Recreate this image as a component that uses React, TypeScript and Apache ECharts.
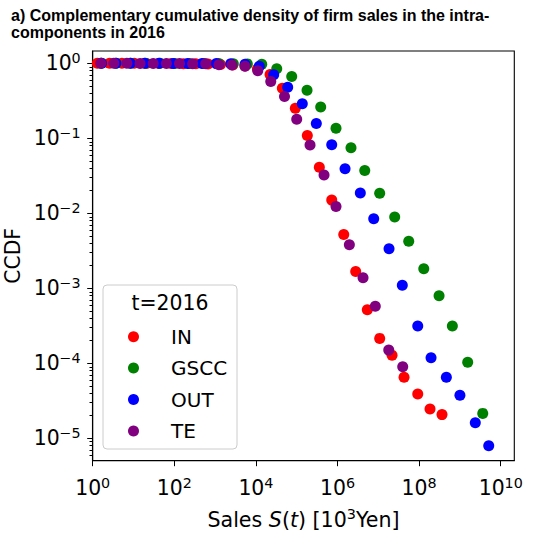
import { useEffect, useRef } from 'react';
import * as echarts from 'echarts';

const SERIES_NAMES = ['IN', 'GSCC', 'OUT', 'TE'];
const SERIES_COLORS = ['#ff0000', '#008000', '#0000ff', '#800080'];

// Sales S(t) [10^3 Yen] and CCDF per component
const inSales = [1.3, 2.59, 5.2, 10.4, 20.8, 42.0, 84, 168, 337, 673, 1350, 2700, 5410, 1.09e4, 2.22e4, 4.44e4, 9.25e4, 1.82e5, 3.58e5, 7.21e5, 1.42e6, 2.79e6, 5.37e6, 1.08e7, 2.17e7, 4.27e7, 9.25e7, 1.85e8, 3.64e8];
const inCcdf = [1, 1, 1, 0.999, 0.998, 0.996, 0.993, 0.99, 0.985, 0.978, 0.965, 0.95, 0.92, 0.84, 0.71, 0.466, 0.251, 0.109, 0.0412, 0.015, 0.00521, 0.00168, 5.19e-4, 2.15e-4, 1.28e-4, 6.5e-5, 3.9e-5, 2.46e-5, 2.07e-5];

const gsccSales = [1.63, 3.75, 8.53, 19.6, 44.9, 103, 234, 537, 1230, 2790, 6150, 1.39e4, 3.24e4, 7.54e4, 1.79e5, 3.87e5, 9.18e5, 2.14e6, 4.65e6, 1.08e7, 2.52e7, 5.56e7, 1.3e8, 3.08e8, 6.52e8, 1.55e9, 3.62e9];
const gsccCcdf = [1, 1, 1, 1, 0.999, 0.998, 0.997, 0.995, 0.993, 0.99, 0.983, 0.975, 0.845, 0.667, 0.437, 0.261, 0.136, 0.0747, 0.0372, 0.0185, 0.00893, 0.00424, 0.00182, 7.96e-4, 3.14e-4, 1.03e-4, 2.15e-5];

const outSales = [1.65, 3.71, 8.35, 18.7, 42.2, 94.4, 212, 478, 1070, 2410, 5410, 1.21e4, 2.73e4, 6.01e4, 1.37e5, 3.02e5, 7.21e5, 1.53e6, 3.62e6, 7.71e6, 1.83e7, 3.87e7, 9.25e7, 1.96e8, 4.65e8, 1.0e9, 2.38e9, 5.08e9];
const outCcdf = [1, 1, 1, 1, 0.999, 0.998, 0.996, 0.994, 0.991, 0.985, 0.97, 0.912, 0.703, 0.48, 0.289, 0.158, 0.0822, 0.0392, 0.0187, 0.00847, 0.00337, 0.0011, 3.14e-4, 1.19e-4, 6.5e-5, 3.74e-5, 1.61e-5, 7.96e-6];

const teSales = [1.57, 3.29, 6.89, 14.5, 30.4, 64.0, 134, 281, 589, 1240, 2590, 5410, 1.11e4, 2.31e4, 5.02e4, 1.0e5, 2.12e5, 4.67e5, 9.18e5, 1.95e6, 4.22e6, 8.43e6, 1.8e7, 3.96e7];
const teCcdf = [1, 1, 1, 0.998, 0.997, 0.995, 0.993, 0.99, 0.985, 0.958, 0.95, 0.915, 0.797, 0.572, 0.361, 0.179, 0.0815, 0.0324, 0.0123, 0.00381, 0.00138, 5.75e-4, 1.5e-4, 9.02e-5];

const X_TICKS = [1, 1e2, 1e4, 1e6, 1e8, 1e10];
const Y_TICKS = [1e-5, 1e-4, 1e-3, 1e-2, 1e-1, 1];
const Y_MINOR = [6e-6, 7e-6, 8e-6, 9e-6];
for (let p = -5; p < 0; p++) {
  for (let m = 2; m <= 9; m++) Y_MINOR.push(m * Math.pow(10, p));
}

const FONT = 'DejaVu Sans';

const supLabel = (v: number) => {
  const e = Math.round(Math.log10(v));
  return `{b|10}{s|${e < 0 ? '\u2212' + -e : e}}`;
};

const labelRich = {
  b: { fontSize: 20.4, fontFamily: FONT, color: '#000', lineHeight: 24 },
  s: { fontSize: 14.3, fontFamily: FONT, color: '#000', verticalAlign: 'top' },
};

export default function App() {
  const ref = useRef<HTMLDivElement | null>(null);

  useEffect(() => {
    if (!ref.current) return;
    const chart = echarts.init(ref.current, undefined, { renderer: 'svg' });

    const groups = [
      [inSales, inCcdf],
      [gsccSales, gsccCcdf],
      [outSales, outCcdf],
      [teSales, teCcdf],
    ];

    chart.setOption({
      animation: false,
      backgroundColor: '#fff',
      title: {
        text: 'a) Complementary cumulative density of firm sales in the intra-\ncomponents in 2016',
        left: 11,
        top: 7,
        padding: 0,
        textStyle: { fontFamily: 'Liberation Sans', fontSize: 16, fontWeight: 'bold', color: '#000', lineHeight: 17 },
      },
      grid: {
        left: 92.7,
        right: 18.7,
        top: 51,
        bottom: 79.3,
        show: true,
        borderColor: '#000',
        borderWidth: 1.1,
        outerBoundsMode: 'none',
      },
      legend: {
        orient: 'vertical',
        left: 128,
        top: 326.7,
        padding: 0,
        itemWidth: 11,
        itemHeight: 11,
        itemGap: 11.4,
        icon: 'circle',
        data: SERIES_NAMES,
        textStyle: { fontSize: 20, fontFamily: FONT, color: '#000', padding: [0, 0, 0, 27] },
      },
      graphic: [
        {
          type: 'rect',
          z: 3,
          shape: { x: 103, y: 285, width: 134, height: 164, r: 4 },
          style: { fill: 'rgba(255,255,255,0.8)', stroke: '#cccccc', lineWidth: 1 },
        },
        {
          type: 'text',
          z: 5,
          x: 170,
          y: 303,
          style: { text: 't=2016', fontSize: 20.4, fontFamily: FONT, fill: '#000', align: 'center', verticalAlign: 'middle' },
        },
      ],
      xAxis: {
        type: 'log',
        logBase: 10,
        min: 1,
        max: 2.15e10,
        name: '{n|Sales }{i|S}{n|(}{i|t}{n|) [10}{s|3}{n|Yen]}',
        nameLocation: 'middle',
        nameGap: 46.3,
        nameMoveOverlap: false,
        nameTextStyle: {
          rich: {
            n: { fontSize: 20.6, fontFamily: FONT, color: '#000', lineHeight: 26 },
            i: { fontSize: 20.6, fontFamily: FONT, fontStyle: 'italic', color: '#000', lineHeight: 26 },
            s: { fontSize: 14.4, fontFamily: FONT, color: '#000', verticalAlign: 'top' },
          },
        },
        axisLine: { show: true, lineStyle: { color: '#000', width: 1.1 } },
        axisTick: { show: true, length: 5.5, lineStyle: { color: '#000' }, customValues: X_TICKS },
        axisLabel: { margin: 15.6, customValues: X_TICKS, formatter: supLabel, rich: labelRich },
        splitLine: { show: false },
        minorTick: { show: false },
      },
      yAxis: [
        {
          type: 'log',
          logBase: 10,
          min: 5.03e-6,
          max: 1.46,
          name: 'CCDF',
          nameLocation: 'middle',
          nameRotate: 90,
          nameGap: 68.4,
          nameMoveOverlap: false,
          nameTextStyle: { fontSize: 20.4, fontFamily: FONT, color: '#000', lineHeight: 22 },
          axisLine: { show: true, lineStyle: { color: '#000', width: 1.1 } },
          axisTick: { show: true, length: 5.5, lineStyle: { color: '#000' }, customValues: Y_TICKS },
          axisLabel: { margin: 12, customValues: Y_TICKS, formatter: supLabel, rich: labelRich },
          splitLine: { show: false },
        },
        {
          type: 'log',
          logBase: 10,
          min: 5.03e-6,
          max: 1.46,
          position: 'left',
          axisLine: { show: false },
          axisTick: { show: true, length: 3.2, lineStyle: { color: '#000', width: 1 }, customValues: Y_MINOR },
          axisLabel: { show: false },
          splitLine: { show: false },
        },
      ],
      series: groups.map(([xs, ys], k) => ({
        name: SERIES_NAMES[k],
        type: 'scatter',
        yAxisIndex: 0,
        symbol: 'circle',
        symbolSize: 11,
        itemStyle: { color: SERIES_COLORS[k], opacity: 1 },
        data: xs.map((x, i) => [x, ys[i]]),
      })),
    });

    return () => {
      chart.dispose();
    };
  }, []);

  return (
    <div
      ref={ref}
      style={{ position: 'fixed', left: 0, top: 0, width: 533, height: 540, background: '#fff' }}
    />
  );
}
